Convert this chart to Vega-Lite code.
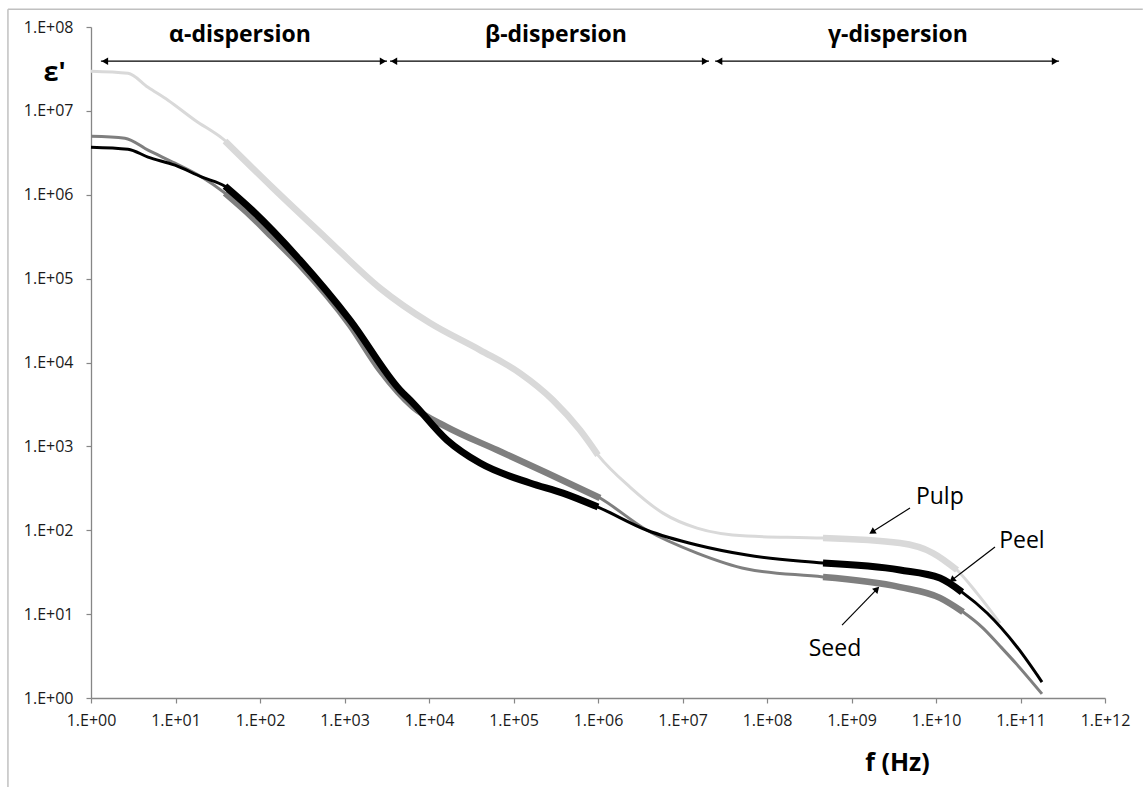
{
  "$schema": "https://vega.github.io/schema/vega-lite/v6.json",
  "width": 1014,
  "height": 671,
  "autosize": {"type": "none"},
  "padding": {"left": 91, "top": 27, "right": 38, "bottom": 89},
  "background": "white",
  "config": {
    "view": {"stroke": null},
    "font": "Open Sans",
    "axis": {
      "labelFont": "Open Sans", "labelFontSize": 16, "labelColor": "#1a1a1a",
      "labelFlush": false, "labelOverlap": false, "labelBound": false,
      "tickSize": 5, "tickColor": "#868686", "tickWidth": 1.2,
      "domainColor": "#868686", "domainWidth": 1.3, "grid": false,
      "titleFont": "Open Sans", "titleFontWeight": "bold", "titleColor": "#000000"
    },
    "axisX": {"labelPadding": 9},
    "axisY": {"labelPadding": 13}
  },
  "datasets": {
    "curves": [
      {"s": "Pulp", "f": 1, "e": 2.97e7}, {"s": "Pulp", "f": 2.74, "e": 2.81e7}, {"s": "Pulp", "f": 4.73, "e": 1.91e7},
      {"s": "Pulp", "f": 8.15, "e": 1.34e7}, {"s": "Pulp", "f": 17.0, "e": 7.74e6}, {"s": "Pulp", "f": 35.5, "e": 4.73e6},
      {"s": "Pulp", "f": 139, "e": 1.233e6}, {"s": "Pulp", "f": 587, "e": 3.13e5}, {"s": "Pulp", "f": 2630, "e": 7.71e4},
      {"s": "Pulp", "f": 10280, "e": 2.95e4}, {"s": "Pulp", "f": 40180, "e": 1.406e4}, {"s": "Pulp", "f": 1.19e5, "e": 7480},
      {"s": "Pulp", "f": 2.93e5, "e": 3565}, {"s": "Pulp", "f": 6.12e5, "e": 1563}, {"s": "Pulp", "f": 1e6, "e": 787},
      {"s": "Pulp", "f": 2.39e6, "e": 327}, {"s": "Pulp", "f": 5.87e6, "e": 160}, {"s": "Pulp", "f": 1.486e7, "e": 106},
      {"s": "Pulp", "f": 5.79e7, "e": 85.3}, {"s": "Pulp", "f": 4.6e8, "e": 80.7}, {"s": "Pulp", "f": 3.75e9, "e": 70.3},
      {"s": "Pulp", "f": 9.2e9, "e": 53.5}, {"s": "Pulp", "f": 1.774e10, "e": 33.6}, {"s": "Pulp", "f": 3.05e10, "e": 17.8},
      {"s": "Pulp", "f": 5.71e10, "e": 7.83},

      {"s": "Seed", "f": 1, "e": 4.99e6}, {"s": "Seed", "f": 2.52, "e": 4.73e6}, {"s": "Seed", "f": 4.73, "e": 3.40e6},
      {"s": "Seed", "f": 9.86, "e": 2.38e6}, {"s": "Seed", "f": 20.6, "e": 1.62e6}, {"s": "Seed", "f": 38.5, "e": 1.045e6},
      {"s": "Seed", "f": 80.4, "e": 5.41e5}, {"s": "Seed", "f": 139, "e": 3.13e5}, {"s": "Seed", "f": 297, "e": 1.449e5},
      {"s": "Seed", "f": 1161, "e": 2.79e4}, {"s": "Seed", "f": 2630, "e": 8110}, {"s": "Seed", "f": 6470, "e": 2940},
      {"s": "Seed", "f": 16330, "e": 1698}, {"s": "Seed", "f": 63830, "e": 904}, {"s": "Seed", "f": 2.49e5, "e": 481},
      {"s": "Seed", "f": 1.057e6, "e": 242}, {"s": "Seed", "f": 3.8e6, "e": 100}, {"s": "Seed", "f": 1.486e7, "e": 53.5},
      {"s": "Seed", "f": 5.79e7, "e": 34.5}, {"s": "Seed", "f": 4.6e8, "e": 27.7}, {"s": "Seed", "f": 3.75e9, "e": 21.0},
      {"s": "Seed", "f": 1.114e10, "e": 15.6}, {"s": "Seed", "f": 2.09e10, "e": 10.6}, {"s": "Seed", "f": 3.6e10, "e": 6.82},
      {"s": "Seed", "f": 5.71e10, "e": 4.17}, {"s": "Seed", "f": 9.1e10, "e": 2.5}, {"s": "Seed", "f": 1.795e11, "e": 1.12},

      {"s": "Peel", "f": 1, "e": 3.69e6}, {"s": "Peel", "f": 2.74, "e": 3.49e6}, {"s": "Peel", "f": 4.73, "e": 2.81e6},
      {"s": "Peel", "f": 9.86, "e": 2.25e6}, {"s": "Peel", "f": 20.6, "e": 1.62e6}, {"s": "Peel", "f": 38.5, "e": 1.265e6},
      {"s": "Peel", "f": 80.4, "e": 6.55e5}, {"s": "Peel", "f": 297, "e": 1.66e5}, {"s": "Peel", "f": 1161, "e": 3.2e4},
      {"s": "Peel", "f": 4540, "e": 4690}, {"s": "Peel", "f": 6470, "e": 3280}, {"s": "Peel", "f": 16330, "e": 1189},
      {"s": "Peel", "f": 40180, "e": 632}, {"s": "Peel", "f": 1.567e5, "e": 366}, {"s": "Peel", "f": 3.85e5, "e": 277},
      {"s": "Peel", "f": 1e6, "e": 189}, {"s": "Peel", "f": 3.8e6, "e": 100}, {"s": "Peel", "f": 1.486e7, "e": 66.7},
      {"s": "Peel", "f": 5.79e7, "e": 50.6}, {"s": "Peel", "f": 4.6e8, "e": 40.6}, {"s": "Peel", "f": 3.75e9, "e": 33.6},
      {"s": "Peel", "f": 1.114e10, "e": 26.9}, {"s": "Peel", "f": 2.03e10, "e": 18.3}, {"s": "Peel", "f": 4.02e10, "e": 10.3},
      {"s": "Peel", "f": 9.1e10, "e": 4.06}, {"s": "Peel", "f": 1.795e11, "e": 1.55}
    ],
    "meas": [
      {"s": "Pulp", "p": "A", "f": 38.5, "e": 4.37e6}, {"s": "Pulp", "p": "A", "f": 139, "e": 1.233e6}, {"s": "Pulp", "p": "A", "f": 587, "e": 3.13e5},
      {"s": "Pulp", "p": "A", "f": 2630, "e": 7.71e4}, {"s": "Pulp", "p": "A", "f": 10280, "e": 2.95e4}, {"s": "Pulp", "p": "A", "f": 40180, "e": 1.406e4},
      {"s": "Pulp", "p": "A", "f": 1.19e5, "e": 7480}, {"s": "Pulp", "p": "A", "f": 2.93e5, "e": 3565}, {"s": "Pulp", "p": "A", "f": 6.12e5, "e": 1563},
      {"s": "Pulp", "p": "A", "f": 1e6, "e": 787},
      {"s": "Pulp", "p": "B", "f": 4.6e8, "e": 80.7}, {"s": "Pulp", "p": "B", "f": 3.75e9, "e": 70.3}, {"s": "Pulp", "p": "B", "f": 9.2e9, "e": 53.5},
      {"s": "Pulp", "p": "B", "f": 1.774e10, "e": 33.6},

      {"s": "Seed", "p": "A", "f": 38.5, "e": 1.045e6}, {"s": "Seed", "p": "A", "f": 80.4, "e": 5.41e5}, {"s": "Seed", "p": "A", "f": 139, "e": 3.13e5},
      {"s": "Seed", "p": "A", "f": 297, "e": 1.449e5}, {"s": "Seed", "p": "A", "f": 1161, "e": 2.79e4}, {"s": "Seed", "p": "A", "f": 2630, "e": 8110},
      {"s": "Seed", "p": "A", "f": 6470, "e": 2940}, {"s": "Seed", "p": "A", "f": 16330, "e": 1698}, {"s": "Seed", "p": "A", "f": 63830, "e": 904},
      {"s": "Seed", "p": "A", "f": 2.49e5, "e": 481}, {"s": "Seed", "p": "A", "f": 1.057e6, "e": 242},
      {"s": "Seed", "p": "B", "f": 4.6e8, "e": 27.7}, {"s": "Seed", "p": "B", "f": 3.75e9, "e": 21.0}, {"s": "Seed", "p": "B", "f": 1.114e10, "e": 15.6},
      {"s": "Seed", "p": "B", "f": 2.09e10, "e": 10.6},

      {"s": "Peel", "p": "A", "f": 38.5, "e": 1.265e6}, {"s": "Peel", "p": "A", "f": 80.4, "e": 6.55e5}, {"s": "Peel", "p": "A", "f": 297, "e": 1.66e5},
      {"s": "Peel", "p": "A", "f": 1161, "e": 3.2e4}, {"s": "Peel", "p": "A", "f": 4540, "e": 4690}, {"s": "Peel", "p": "A", "f": 6470, "e": 3280},
      {"s": "Peel", "p": "A", "f": 16330, "e": 1189}, {"s": "Peel", "p": "A", "f": 40180, "e": 632}, {"s": "Peel", "p": "A", "f": 1.567e5, "e": 366},
      {"s": "Peel", "p": "A", "f": 3.85e5, "e": 277}, {"s": "Peel", "p": "A", "f": 1e6, "e": 189},
      {"s": "Peel", "p": "B", "f": 4.6e8, "e": 40.6}, {"s": "Peel", "p": "B", "f": 3.75e9, "e": 33.6}, {"s": "Peel", "p": "B", "f": 1.114e10, "e": 26.9},
      {"s": "Peel", "p": "B", "f": 2.03e10, "e": 18.3}
    ],
    "disp": [
      {"n": "α-dispersion", "a": 1.31, "b": 3185, "la": 1.46, "rb": 2857, "m": 57.9},
      {"n": "β-dispersion", "a": 3453, "b": 2.06e7, "la": 3850, "rb": 1.85e7, "m": 3.18e5},
      {"n": "γ-dispersion", "a": 2.43e7, "b": 2.86e11, "la": 2.71e7, "rb": 2.56e11, "m": 3.55e9}
    ],
    "callouts": [
      {"t": "Pulp", "tx": 1.11e10, "ty": 249, "x1": 4.92e9, "y1": 184, "x2": 1.75e9, "y2": 95.2},
      {"t": "Peel", "tx": 1.04e11, "ty": 74.3, "x1": 4.99e10, "y1": 63.1, "x2": 1.546e10, "y2": 25.5},
      {"t": "Seed", "tx": 6.38e8, "ty": 3.84, "x1": 7.73e8, "y1": 7.41, "x2": 2.0e9, "y2": 19.9}
    ],
    "one": [{"k": 1}]
  },
  "layer": [
    {
      "data": {"name": "curves"},
      "transform": [{"filter": "datum.s == 'Pulp'"}],
      "mark": {"type": "line", "interpolate": "monotone", "color": "#d9d9d9", "strokeWidth": 3},
      "encoding": {
        "x": {
          "field": "f", "type": "quantitative",
          "scale": {"type": "log", "domain": [1, 1e12], "nice": false},
          "axis": {
            "values": [1, 10, 100, 1000, 10000, 100000, 1000000, 10000000, 100000000, 1000000000, 10000000000, 100000000000, 1000000000000],
            "labelExpr": "'1.E+' + (round(log(datum.value)/LN10) < 10 ? '0' : '') + round(log(datum.value)/LN10)",
            "labelFontSize": 16, "labelPadding": 9,
            "title": "f (Hz)", "titleX": 806, "titleY": 64, "titleAlign": "center", "titleBaseline": "middle",
            "titleFontSize": 25
          }
        },
        "y": {
          "field": "e", "type": "quantitative",
          "scale": {"type": "log", "domain": [1, 1e8], "nice": false},
          "axis": {
            "values": [1, 10, 100, 1000, 10000, 100000, 1000000, 10000000, 100000000],
            "labelExpr": "'1.E+' + (round(log(datum.value)/LN10) < 10 ? '0' : '') + round(log(datum.value)/LN10)",
            "labelFontSize": 16, "labelPadding": 13,
            "title": "ε'", "titleAngle": 0, "titleX": -37, "titleY": 45, "titleAlign": "center", "titleBaseline": "middle",
            "titleFontSize": 27
          }
        }
      }
    },
    {
      "data": {"name": "meas"},
      "transform": [{"filter": "datum.s == 'Pulp'"}],
      "mark": {"type": "line", "interpolate": "monotone", "color": "#d9d9d9", "strokeWidth": 6.5, "strokeCap": "butt"},
      "encoding": {
        "x": {"field": "f", "type": "quantitative"},
        "y": {"field": "e", "type": "quantitative"},
        "detail": {"field": "p"}
      }
    },
    {
      "data": {"name": "curves"},
      "transform": [{"filter": "datum.s == 'Seed'"}],
      "mark": {"type": "line", "interpolate": "monotone", "color": "#7f7f7f", "strokeWidth": 3},
      "encoding": {
        "x": {"field": "f", "type": "quantitative"},
        "y": {"field": "e", "type": "quantitative"}
      }
    },
    {
      "data": {"name": "meas"},
      "transform": [{"filter": "datum.s == 'Seed'"}],
      "mark": {"type": "line", "interpolate": "monotone", "color": "#7f7f7f", "strokeWidth": 6.5, "strokeCap": "butt"},
      "encoding": {
        "x": {"field": "f", "type": "quantitative"},
        "y": {"field": "e", "type": "quantitative"},
        "detail": {"field": "p"}
      }
    },
    {
      "data": {"name": "curves"},
      "transform": [{"filter": "datum.s == 'Peel'"}],
      "mark": {"type": "line", "interpolate": "monotone", "color": "#000000", "strokeWidth": 3},
      "encoding": {
        "x": {"field": "f", "type": "quantitative"},
        "y": {"field": "e", "type": "quantitative"}
      }
    },
    {
      "data": {"name": "meas"},
      "transform": [{"filter": "datum.s == 'Peel'"}],
      "mark": {"type": "line", "interpolate": "monotone", "color": "#000000", "strokeWidth": 7, "strokeCap": "butt"},
      "encoding": {
        "x": {"field": "f", "type": "quantitative"},
        "y": {"field": "e", "type": "quantitative"},
        "detail": {"field": "p"}
      }
    },
    {
      "data": {"name": "disp"},
      "mark": {"type": "rule", "color": "#000000", "strokeWidth": 1.2},
      "encoding": {
        "x": {"field": "a", "type": "quantitative"},
        "x2": {"field": "b"},
        "y": {"datum": 3.91e7, "type": "quantitative"}
      }
    },
    {
      "data": {"name": "disp"},
      "mark": {"type": "point", "shape": "triangle-left", "filled": true, "color": "#000000", "size": 55, "opacity": 1},
      "encoding": {
        "x": {"field": "la", "type": "quantitative"},
        "y": {"datum": 3.91e7, "type": "quantitative"}
      }
    },
    {
      "data": {"name": "disp"},
      "mark": {"type": "point", "shape": "triangle-right", "filled": true, "color": "#000000", "size": 55, "opacity": 1},
      "encoding": {
        "x": {"field": "rb", "type": "quantitative"},
        "y": {"datum": 3.91e7, "type": "quantitative"}
      }
    },
    {
      "data": {"name": "disp"},
      "mark": {"type": "text", "font": "Open Sans", "fontSize": 23, "fontWeight": "bold", "color": "#000000", "align": "center", "baseline": "middle"},
      "encoding": {
        "x": {"field": "m", "type": "quantitative"},
        "y": {"datum": 7.98e7, "type": "quantitative"},
        "text": {"field": "n"}
      }
    },
    {
      "data": {"name": "callouts"},
      "mark": {"type": "rule", "color": "#000000", "strokeWidth": 1.2},
      "encoding": {
        "x": {"field": "x1", "type": "quantitative"},
        "y": {"field": "y1", "type": "quantitative"},
        "x2": {"field": "x2"},
        "y2": {"field": "y2"}
      }
    },
    {
      "data": {"name": "callouts"},
      "transform": [{"filter": "datum.t == 'Pulp'"}],
      "mark": {"type": "point", "shape": "triangle-up", "filled": true, "color": "#000000", "size": 55, "opacity": 1, "angle": 238},
      "encoding": {
        "x": {"field": "x2", "type": "quantitative"},
        "y": {"field": "y2", "type": "quantitative"}
      }
    },
    {
      "data": {"name": "callouts"},
      "transform": [{"filter": "datum.t == 'Peel'"}],
      "mark": {"type": "point", "shape": "triangle-up", "filled": true, "color": "#000000", "size": 55, "opacity": 1, "angle": 232},
      "encoding": {
        "x": {"field": "x2", "type": "quantitative"},
        "y": {"field": "y2", "type": "quantitative"}
      }
    },
    {
      "data": {"name": "callouts"},
      "transform": [{"filter": "datum.t == 'Seed'"}],
      "mark": {"type": "point", "shape": "triangle-up", "filled": true, "color": "#000000", "size": 55, "opacity": 1, "angle": 44},
      "encoding": {
        "x": {"field": "x2", "type": "quantitative"},
        "y": {"field": "y2", "type": "quantitative"}
      }
    },
    {
      "data": {"name": "callouts"},
      "mark": {"type": "text", "font": "Open Sans", "fontSize": 23, "color": "#000000", "align": "center", "baseline": "middle"},
      "encoding": {
        "x": {"field": "tx", "type": "quantitative"},
        "y": {"field": "ty", "type": "quantitative"},
        "text": {"field": "t"}
      }
    },
    {
      "data": {"name": "one"},
      "mark": {"type": "rule", "color": "#c0c0c0", "strokeWidth": 1.5},
      "encoding": {
        "x": {"datum": 0.104, "type": "quantitative"},
        "y": {"datum": 0.087, "type": "quantitative"},
        "y2": {"datum": 1.63e8}
      }
    },
    {
      "data": {"name": "one"},
      "mark": {"type": "rule", "color": "#c0c0c0", "strokeWidth": 1.5},
      "encoding": {
        "x": {"datum": 0.104, "type": "quantitative"},
        "x2": {"datum": 2.8e12},
        "y": {"datum": 1.63e8, "type": "quantitative"}
      }
    }
  ]
}
